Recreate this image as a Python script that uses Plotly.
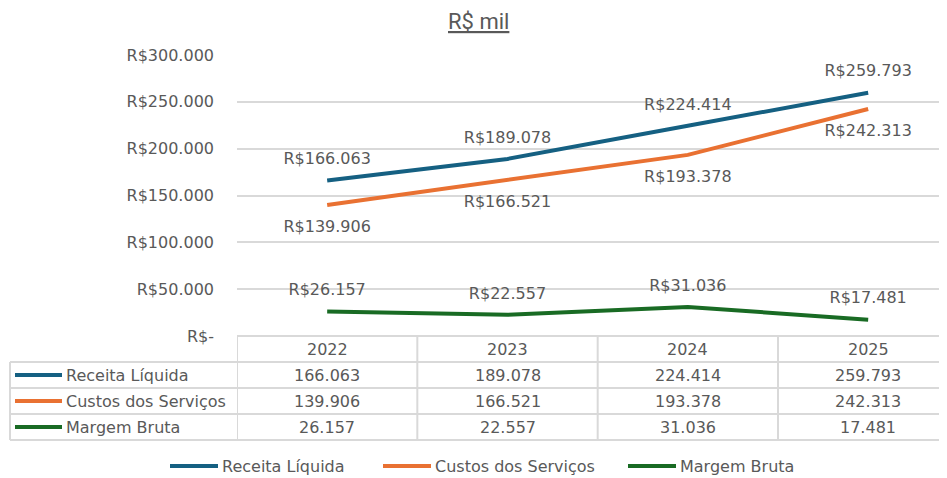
import plotly.graph_objects as go

anos = ["2022", "2023", "2024", "2025"]
receita = [166063, 189078, 224414, 259793]
custos = [139906, 166521, 193378, 242313]
margem = [26157, 22557, 31036, 17481]

series = [
    ("Receita Líquida", receita, "#156082", "top center"),
    ("Custos dos Serviços", custos, "#E97132", "bottom center"),
    ("Margem Bruta", margem, "#196B24", "top center"),
]

y_ticks = [0, 50000, 100000, 150000, 200000, 250000, 300000]

# the page body has an 8px margin, so the figure is sized to the visible area
OFF = 8
W, H = 947 - OFF, 478 - OFF
cinza = "#595959"
linha_tab = "#d9d9d9"
fonte = "DejaVu Sans"


def br(v):
    return f"{v:,}".replace(",", ".")


def py(p):  # screen pixel (from top) -> paper y
    return 1 - (p - OFF) / H


def px_(p):  # screen pixel (from left) -> paper x
    return (p - OFF) / W


# plot / table geometry (screen pixels); the last column runs past the right edge
x_ini = 237
col_w = (778 - x_ini) / 3
x_max = -0.5 + (947 - x_ini) / col_w

fig = go.Figure()

idx = list(range(len(anos)))
for nome, vals, cor, pos in series:
    fig.add_trace(go.Scatter(
        x=idx, y=vals, name=nome,
        mode="lines+markers+text",
        line=dict(color=cor, width=4),
        marker=dict(size=18 if pos.startswith("top") else 22, opacity=0, color=cor),
        text=["R$" + br(v) for v in vals],
        textposition=pos,
        textfont=dict(family=fonte, size=16, color=cinza),
        hoverinfo="skip",
        cliponaxis=False,
        showlegend=False,
    ))

top_tab = 336
row_h = 26
lin_y = [top_tab + row_h * i for i in range(len(series) + 2)]
esq = 10

shapes = []
annots = []
tfont = dict(family=fonte, size=16, color=cinza)

# horizontal lines
shapes.append(dict(type="line", xref="x", yref="paper", x0=-0.5, x1=x_max,
                   y0=py(lin_y[0]), y1=py(lin_y[0]), line=dict(color=linha_tab, width=2)))
for yy in lin_y[1:]:
    shapes.append(dict(type="line", xref="paper", yref="paper", x0=px_(esq), x1=1,
                       y0=py(yy), y1=py(yy), line=dict(color=linha_tab, width=2)))
# vertical lines
for i in range(len(anos)):
    shapes.append(dict(type="line", xref="x", yref="paper", x0=i - 0.5, x1=i - 0.5,
                       y0=py(lin_y[0]), y1=py(lin_y[-1]), line=dict(color=linha_tab, width=2)))
shapes.append(dict(type="line", xref="paper", yref="paper", x0=px_(esq), x1=px_(esq),
                   y0=py(lin_y[1]), y1=py(lin_y[-1]), line=dict(color=linha_tab, width=2)))

# header
for i, a in enumerate(anos):
    annots.append(dict(xref="x", yref="paper", x=i, y=py(top_tab + row_h / 2), text=a,
                       xanchor="center", yanchor="middle", showarrow=False, font=tfont))

# rows
for r, (nome, vals, cor, pos) in enumerate(series):
    yc = py(top_tab + row_h * (r + 1.5))
    shapes.append(dict(type="line", xref="paper", yref="paper", x0=px_(15), x1=px_(62),
                       y0=yc, y1=yc, line=dict(color=cor, width=4)))
    annots.append(dict(xref="paper", yref="paper", x=px_(64), y=yc, text=nome,
                       xanchor="left", yanchor="middle", showarrow=False, font=tfont))
    for i, v in enumerate(vals):
        annots.append(dict(xref="x", yref="paper", x=i, y=yc, text=br(v),
                           xanchor="center", yanchor="middle", showarrow=False, font=tfont))

# legend at the bottom (drawn by hand, Excel-style long line keys)
leg_x = [170, 383, 628]
leg_y = py(466)
for (nome, vals, cor, pos), lx in zip(series, leg_x):
    shapes.append(dict(type="line", xref="paper", yref="paper", x0=px_(lx), x1=px_(lx + 48),
                       y0=leg_y, y1=leg_y, line=dict(color=cor, width=4)))
    annots.append(dict(xref="paper", yref="paper", x=px_(lx + 50), y=leg_y, text=nome,
                       xanchor="left", yanchor="middle", showarrow=False, font=tfont))

# title
annots.append(dict(xref="paper", yref="paper", x=px_(478), y=1, text="<u>R$ mil</u>",
                   xanchor="center", yanchor="top", showarrow=False, borderpad=0,
                   font=dict(family="Roboto", size=22, color=cinza)))

fig.update_layout(
    width=W, height=H,
    margin=dict(l=0, r=0, t=0, b=0, autoexpand=False),
    paper_bgcolor="white", plot_bgcolor="white",
    shapes=shapes, annotations=annots,
    showlegend=False,
    xaxis=dict(domain=[px_(x_ini), 1], range=[-0.5, x_max],
               showticklabels=False, showgrid=False, zeroline=False, fixedrange=True),
    yaxis=dict(domain=[py(336), py(55)], range=[0, 300000],
               tickvals=y_ticks,
               ticktext=["R$" + br(v) if v else "R$-" for v in y_ticks],
               tickfont=tfont,
               ticklabelstandoff=22,
               showgrid=True, gridcolor=linha_tab, gridwidth=2,
               zeroline=False, fixedrange=True),
)

fig.write_html("out.html")
